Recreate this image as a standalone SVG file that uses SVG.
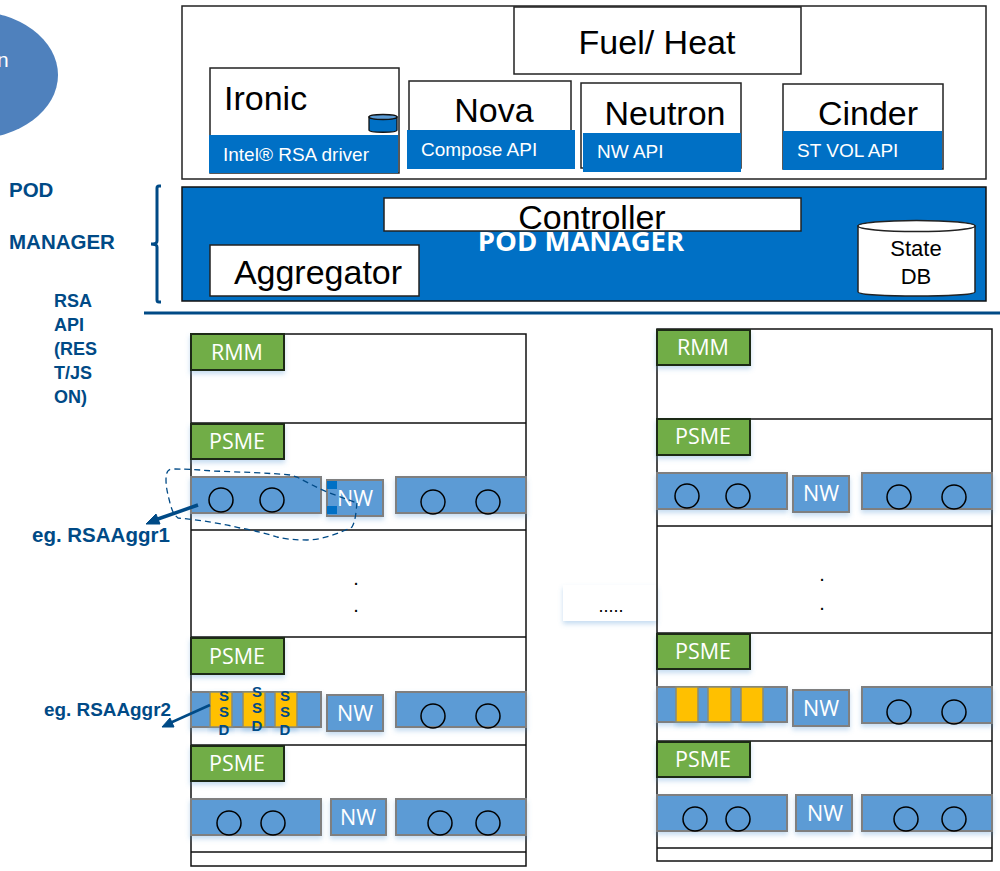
<svg xmlns="http://www.w3.org/2000/svg" width="1000" height="871" viewBox="0 0 1000 871">
<defs><filter id="soft" x="-10%" y="-20%" width="120%" height="150%"><feDropShadow dx="0" dy="3" stdDeviation="2.5" flood-color="#5b9bd5" flood-opacity="0.35"/></filter></defs>
<style>
text{font-family:"Liberation Sans",Arial,sans-serif}
.o{font-family:"Open Sans","Noto Sans",sans-serif;fill:#fff;font-size:21.5px;text-anchor:middle}
.big{fill:#000;font-size:34px}
.w{fill:#fff;font-size:19px}
.lb{fill:#004a86;font-weight:bold;font-size:20.5px}
.lb2{fill:#004a86;font-weight:bold;font-size:18px}
.box{fill:#fff;stroke:#222;stroke-width:1.5}
.rk{fill:none;stroke:#111;stroke-width:1.5}
.sh{fill:#71ad47;stroke:#1c2a14;stroke-width:2;filter:url(#soft)}
.bl{fill:#5b9bd5;stroke:#7f7f7f;stroke-width:2;filter:url(#soft)}
.c{fill:none;stroke:#000;stroke-width:1.5}
.ssd{fill:#ffc000;stroke:#8a8a70;stroke-width:1.5;filter:url(#soft)}
.drv{fill:#0070c5}
.s{fill:#004a86;font-weight:bold;font-size:15px;text-anchor:middle}
</style>
<g id="cloud"><ellipse cx="-28" cy="75" rx="86" ry="64" fill="#4f81bd"/><text x="-3" y="67" font-size="21" fill="#fff">n</text></g>
<g id="pod-label"><text class="lb" x="9" y="197">POD</text><text class="lb" x="9" y="249">MANAGER</text></g>
<g id="rsa-label"><text class="lb2" x="54" y="307">RSA</text><text class="lb2" x="54" y="331">API</text><text class="lb2" x="54" y="355">(RES</text><text class="lb2" x="54" y="379">T/JS</text><text class="lb2" x="54" y="403">ON)</text></g>
<g id="openstack"><rect class="box" x="182" y="6" width="804" height="173"/></g>
<g id="fuel"><rect class="box" x="514" y="7" width="287" height="67"/><text class="big" x="657" y="54" text-anchor="middle">Fuel/ Heat</text></g>
<g id="ironic"><rect class="box" x="210" y="68" width="189" height="105"/><rect class="drv" x="209" y="135" width="189" height="38"/><text class="big" x="224" y="110">Ironic</text><text class="w" x="223" y="161">Intel® RSA driver</text>
<path d="M369 117v13c0 3 28 3 28 0v-13z" fill="#0070c5" stroke="#111" stroke-width="1.3"/><ellipse cx="383" cy="117" rx="14" ry="2.5" fill="#5b9bd5" stroke="#111" stroke-width="1.3"/></g>
<g id="nova"><rect class="box" x="409" y="81" width="162" height="85"/><rect class="drv" x="407" y="130" width="168" height="39"/><text class="big" x="494" y="122" text-anchor="middle">Nova</text><text class="w" x="421" y="156">Compose API</text></g>
<g id="neutron"><rect class="box" x="581" y="83" width="160" height="85"/><rect class="drv" x="583" y="133" width="158" height="39"/><text class="big" x="665" y="125" text-anchor="middle">Neutron</text><text class="w" x="597" y="158">NW API</text></g>
<g id="cinder"><rect class="box" x="783" y="84" width="160" height="85"/><rect class="drv" x="783" y="131" width="159" height="39"/><text class="big" x="868" y="125" text-anchor="middle">Cinder</text><text class="w" x="797" y="157">ST VOL API</text></g>
<g id="pod-manager"><rect x="182" y="187" width="804" height="114" fill="#0070c5" stroke="#111" stroke-width="1.5"/>
<rect class="box" x="384" y="198" width="417" height="33"/><text class="big" x="592" y="229" text-anchor="middle">Controller</text>
<text x="581" y="251" font-weight="bold" font-size="27.5" fill="#fff" text-anchor="middle" style="font-family:'Open Sans',sans-serif">POD MANAGER</text></g>
<g id="aggregator"><rect class="box" x="210" y="245" width="209" height="51"/><text class="big" x="318" y="284" text-anchor="middle">Aggregator</text></g>
<g id="state-db"><path d="M858 226v66c0 5.300 117 5.300 117 0v-66z" fill="#fff" stroke="#222" stroke-width="1.5"/><ellipse cx="916.500" cy="226" rx="58.500" ry="5.500" fill="#fff" stroke="#222" stroke-width="1.5"/><text x="916" y="256" font-size="22" text-anchor="middle">State</text><text x="916" y="284" font-size="22" text-anchor="middle">DB</text></g>
<g id="ellipsis"><rect x="563" y="585" width="94" height="36" fill="#fff" style="filter:url(#soft)"/><text x="611" y="612" font-size="18" text-anchor="middle">.....</text></g>
<g id="rack-left"><rect class="rk" x="191" y="334" width="335" height="532"/><path class="rk" d="M191 423H526M191 530H526M191 637H526M191 745H526M191 852H526"/>
<rect class="sh" x="191" y="334" width="93" height="36"/><text class="o" x="237" y="360">RMM</text>
<rect class="sh" x="191" y="424" width="93" height="35"/><text class="o" x="237" y="449">PSME</text>
<rect class="bl" x="191" y="477" width="130" height="36"/><circle class="c" cx="221" cy="500" r="12"/><circle class="c" cx="272" cy="500" r="12"/>
<rect class="bl" x="327" y="480" width="56" height="36"/><text class="o" x="355" y="506">NW</text><rect x="327" y="481" width="10" height="8" fill="#0070c5"/><rect x="327" y="506" width="10" height="8" fill="#0070c5"/>
<rect class="bl" x="396" y="477" width="130" height="36"/><circle class="c" cx="433" cy="502" r="12"/><circle class="c" cx="488" cy="502" r="12"/>
<text x="356" y="585" font-size="20" text-anchor="middle">.</text><text x="356" y="612" font-size="20" text-anchor="middle">.</text>
<rect class="sh" x="191" y="638" width="93" height="36"/><text class="o" x="237" y="664">PSME</text>
<rect class="bl" x="191" y="692" width="130" height="35"/><rect class="ssd" x="210" y="692" width="22" height="35"/><rect class="ssd" x="243" y="692" width="22" height="35"/><rect class="ssd" x="275" y="692" width="22" height="35"/>
<text class="s" x="224" y="701">S</text><text class="s" x="224" y="717">S</text><text class="s" x="224" y="735">D</text><text class="s" x="257" y="697">S</text><text class="s" x="257" y="713">S</text><text class="s" x="257" y="731">D</text><text class="s" x="285" y="701">S</text><text class="s" x="285" y="717">S</text><text class="s" x="285" y="735">D</text>
<rect class="bl" x="327" y="695" width="56" height="36"/><text class="o" x="355" y="721">NW</text>
<rect class="bl" x="396" y="692" width="130" height="35"/><circle class="c" cx="433" cy="716" r="12"/><circle class="c" cx="488" cy="716" r="12"/>
<rect class="sh" x="191" y="746" width="93" height="35"/><text class="o" x="237" y="771">PSME</text>
<rect class="bl" x="191" y="799" width="130" height="36"/><circle class="c" cx="229" cy="823" r="12"/><circle class="c" cx="273" cy="823" r="12"/>
<rect class="bl" x="331" y="799" width="55" height="36"/><text class="o" x="358" y="825">NW</text>
<rect class="bl" x="396" y="799" width="130" height="36"/><circle class="c" cx="440" cy="823" r="12"/><circle class="c" cx="488" cy="823" r="12"/></g>
<g id="rack-right"><rect class="rk" x="657" y="329" width="335" height="532"/><path class="rk" d="M657 419H992M657 526H992M657 633H992M657 741H992M657 848H992"/>
<rect class="sh" x="657" y="330" width="93" height="35"/><text class="o" x="703" y="355">RMM</text>
<rect class="sh" x="657" y="419" width="93" height="36"/><text class="o" x="703" y="444">PSME</text>
<rect class="bl" x="657" y="473" width="130" height="36"/><circle class="c" cx="687" cy="496" r="12"/><circle class="c" cx="738" cy="496" r="12"/>
<rect class="bl" x="793" y="476" width="56" height="36"/><text class="o" x="821" y="501">NW</text>
<rect class="bl" x="862" y="473" width="130" height="36"/><circle class="c" cx="899" cy="497" r="12"/><circle class="c" cx="954" cy="497" r="12"/>
<text x="822" y="581" font-size="20" text-anchor="middle">.</text><text x="822" y="610" font-size="20" text-anchor="middle">.</text>
<rect class="sh" x="657" y="634" width="93" height="35"/><text class="o" x="703" y="659">PSME</text>
<rect class="bl" x="657" y="687" width="130" height="35"/><rect class="ssd" x="676" y="687" width="22" height="35"/><rect class="ssd" x="708" y="687" width="23" height="35"/><rect class="ssd" x="741" y="687" width="22" height="35"/>
<rect class="bl" x="793" y="690" width="56" height="36"/><text class="o" x="821" y="716">NW</text>
<rect class="bl" x="862" y="687" width="130" height="36"/><circle class="c" cx="899" cy="712" r="12"/><circle class="c" cx="954" cy="712" r="12"/>
<rect class="sh" x="657" y="742" width="93" height="35"/><text class="o" x="703" y="767">PSME</text>
<rect class="bl" x="657" y="795" width="130" height="36"/><circle class="c" cx="695" cy="819" r="12"/><circle class="c" cx="738" cy="819" r="12"/>
<rect class="bl" x="796" y="795" width="56" height="36"/><text class="o" x="825" y="821">NW</text>
<rect class="bl" x="862" y="795" width="130" height="36"/><circle class="c" cx="906" cy="819" r="12"/><circle class="c" cx="954" cy="819" r="12"/></g>
<g id="eg-labels"><text class="lb" x="32" y="542">eg. RSAAggr1</text><text class="lb2" x="44" y="716" style="font-size:18.9px">eg. RSAAggr2</text></g>
<g id="connectors" fill="none">
<path d="M161 186h-2q-2 0-2 2v53q0 3-6 3q6 0 6 3v53q0 2 2 2h2" stroke="#004a86" stroke-width="3"/>
<path d="M144 313H1000" stroke="#004a86" stroke-width="3"/>
<path d="M357 503C356 510 356 520 352 527C340 533 322 540 307 540C295 540 285 539 277 537C265 533 252 530 240 528C225 524 200 520 178 518C173 514 172 510 170 503C168 495 166 488 166 480C166 472 168 469 172 469C190 469 200 470 213 471C240 472 270 473 290 475L297 477C306 482 316 487 327 492L357 503" stroke="#004a86" stroke-width="1.3" stroke-dasharray="6 4"/>
<path d="M198 505L155 520" stroke="#004a86" stroke-width="3.500"/>
<path d="M146 524L156 514L160 524Z" fill="#004a86" stroke="#004a86"/>
<path d="M210 705L170 723" stroke="#004a86" stroke-width="2.500"/>
<path d="M162 727L170 718L174 727Z" fill="#004a86" stroke="#004a86"/>
</g>
</svg>
